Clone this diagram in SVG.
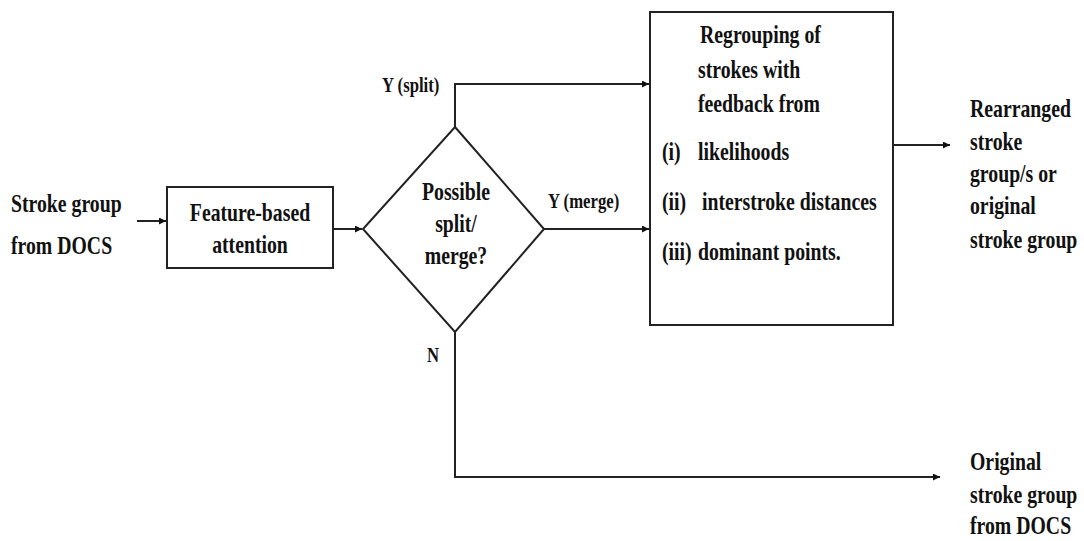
<svg xmlns="http://www.w3.org/2000/svg" width="1084" height="541" viewBox="0 0 1084 541">
<defs>
<style>
.t{font-family:"Liberation Serif","Times New Roman",serif;font-weight:bold;font-size:26px;fill:#111}
.s{font-family:"Liberation Serif","Times New Roman",serif;font-weight:bold;font-size:22px;fill:#111}
.m{text-anchor:middle}
.box{fill:#fff;stroke:#222;stroke-width:2}
.ln{fill:none;stroke:#222;stroke-width:2}
</style>
<marker id="ah" viewBox="0 0 10 10" refX="10" refY="5" markerWidth="9" markerHeight="7" markerUnits="userSpaceOnUse" orient="auto">
<path d="M0,0 L10,5 L0,10 z" fill="#111"/>
</marker>
</defs>
<rect width="1084" height="541" fill="#fff"/>

<g id="connectors">
<line class="ln" x1="137" y1="221" x2="166" y2="221" marker-end="url(#ah)"/>
<line class="ln" x1="333" y1="229" x2="362" y2="229" marker-end="url(#ah)"/>
<polyline class="ln" points="455,127 455,84 649,84" marker-end="url(#ah)"/>
<line class="ln" x1="544" y1="229" x2="649" y2="229" marker-end="url(#ah)"/>
<line class="ln" x1="893" y1="145" x2="950" y2="145" marker-end="url(#ah)"/>
<polyline class="ln" points="455,332 455,477 940,477" marker-end="url(#ah)"/>
</g>

<g id="labels">
<text class="s" transform="translate(382,92) scale(0.76,1)">Y (split)</text>
<text class="s" transform="translate(548,208) scale(0.76,1)">Y (merge)</text>
<text class="s" transform="translate(427,362) scale(0.76,1)">N</text>
</g>

<g id="input">
<text class="t" transform="translate(11,212) scale(0.76,1)">Stroke group</text>
<text class="t" transform="translate(11,254) scale(0.76,1)">from DOCS</text>
</g>

<g id="feature">
<rect class="box" x="167" y="187" width="166" height="81"/>
<text class="t m" transform="translate(250,221) scale(0.76,1)">Feature-based</text>
<text class="t m" transform="translate(250,253) scale(0.76,1)">attention</text>
</g>

<g id="decision">
<polygon class="box" points="455,127 544,229 455,332 363,229"/>
<text class="t m" transform="translate(456,200) scale(0.76,1)">Possible</text>
<text class="t m" transform="translate(456,232) scale(0.76,1)">split/</text>
<text class="t m" transform="translate(456,264) scale(0.76,1)">merge?</text>
</g>

<g id="regroup">
<rect class="box" x="650" y="12" width="243" height="313"/>
<text class="t" transform="translate(700,43) scale(0.76,1)">Regrouping of</text>
<text class="t" transform="translate(698,78) scale(0.76,1)">strokes with</text>
<text class="t" transform="translate(698,112) scale(0.76,1)">feedback from</text>
<text class="t" transform="translate(662,160) scale(0.76,1)">(i)</text>
<text class="t" transform="translate(698,160) scale(0.76,1)">likelihoods</text>
<text class="t" transform="translate(662,210) scale(0.76,1)">(ii)</text>
<text class="t" transform="translate(702,210) scale(0.76,1)">interstroke distances</text>
<text class="t" transform="translate(662,260) scale(0.76,1)">(iii)</text>
<text class="t" transform="translate(698,260) scale(0.76,1)">dominant points.</text>
</g>

<g id="output-rearranged">
<text class="t" transform="translate(970,117) scale(0.76,1)">Rearranged</text>
<text class="t" transform="translate(970,150) scale(0.76,1)">stroke</text>
<text class="t" transform="translate(970,182) scale(0.76,1)">group/s or</text>
<text class="t" transform="translate(970,214) scale(0.76,1)">original</text>
<text class="t" transform="translate(970,248) scale(0.76,1)">stroke group</text>
</g>

<g id="output-original">
<text class="t" transform="translate(970,470) scale(0.76,1)">Original</text>
<text class="t" transform="translate(970,503) scale(0.76,1)">stroke group</text>
<text class="t" transform="translate(970,534) scale(0.76,1)">from DOCS</text>
</g>
</svg>
